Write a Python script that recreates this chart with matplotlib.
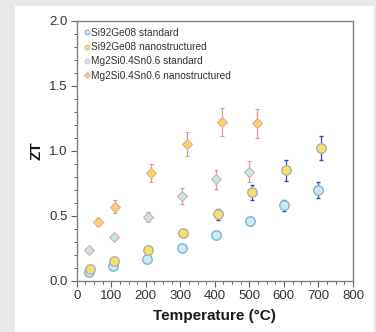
import matplotlib
matplotlib.use("Agg")
import matplotlib.pyplot as plt
from matplotlib.patches import Rectangle
from matplotlib.ticker import MultipleLocator, FormatStrFormatter
from matplotlib.lines import Line2D

plt.rcParams['font.family'] = ['Liberation Sans', 'DejaVu Sans']

# Si92Ge08 standard
sg_std_T = [37, 104, 204, 304, 403, 502, 600, 698]
sg_std_ZT = [0.07, 0.11, 0.17, 0.25, 0.35, 0.46, 0.58, 0.70]
sg_std_err = [0.0, 0.0, 0.0, 0.0, 0.0, 0.03, 0.04, 0.06]

# Si92Ge08 nanostructured
sg_nano_T = [38, 107, 206, 308, 410, 507, 606, 706]
sg_nano_ZT = [0.09, 0.15, 0.24, 0.37, 0.51, 0.68, 0.85, 1.02]
sg_nano_err = [0.0, 0.0, 0.0, 0.0, 0.04, 0.06, 0.08, 0.09]

# Mg2Si0.4Sn0.6 standard
mg_std_T = [37, 107, 206, 304, 403, 500]
mg_std_ZT = [0.24, 0.34, 0.49, 0.65, 0.78, 0.84]
mg_std_err = [0.0, 0.01, 0.04, 0.06, 0.075, 0.077]

# Mg2Si0.4Sn0.6 nanostructured
mg_nano_T = [61, 111, 214, 318, 420, 521]
mg_nano_ZT = [0.45, 0.57, 0.83, 1.05, 1.22, 1.21]
mg_nano_err = [0.03, 0.05, 0.07, 0.09, 0.106, 0.11]

labels = ["Si92Ge08 standard", "Si92Ge08 nanostructured",
          "Mg2Si0.4Sn0.6 standard", "Mg2Si0.4Sn0.6 nanostructured"]

fig = plt.figure(figsize=(3.76, 3.32), dpi=100)
fig.patch.set_facecolor('#e8e8e8')
bg = Rectangle((15/376, 0), 359/376, 1 - 6/332, transform=fig.transFigure,
               facecolor='white', edgecolor='none', zorder=-10)
fig.add_artist(bg)

ax = fig.add_axes([76.7/376, 1 - 280.7/332, (353 - 76.7)/376, (280.7 - 20.7)/332])
ax.set_facecolor('white')

ax.errorbar(mg_std_T, mg_std_ZT, yerr=mg_std_err, fmt='D', ms=5.6,
            mfc='#bfe9ea', mec='#e0a8a8', mew=0.8, ecolor='#d89898', elinewidth=0.9,
            capsize=1.6, zorder=3)
ax.errorbar(mg_nano_T, mg_nano_ZT, yerr=mg_nano_err, fmt='D', ms=5.6,
            mfc='#f8d460', mec='#e8a8a0', mew=0.8, ecolor='#d89898', elinewidth=0.9,
            capsize=1.6, zorder=3)
ax.errorbar(sg_std_T, sg_std_ZT, yerr=sg_std_err, fmt='o', ms=6.8,
            mfc='#c8ecf0', mec='#88b0d8', mew=1.0, ecolor='#3050b0', elinewidth=0.9,
            capsize=1.6, zorder=4)
ax.errorbar(sg_nano_T, sg_nano_ZT, yerr=sg_nano_err, fmt='o', ms=6.8,
            mfc='#f8e070', mec='#b0b0a8', mew=1.0, ecolor='#3050b0', elinewidth=0.9,
            capsize=1.6, zorder=4)

ax.set_xlim(0, 800)
ax.set_ylim(0, 2.0)
ax.xaxis.set_major_locator(MultipleLocator(100))
ax.xaxis.set_minor_locator(MultipleLocator(25))
ax.yaxis.set_major_locator(MultipleLocator(0.5))
ax.yaxis.set_minor_locator(MultipleLocator(0.1))
ax.yaxis.set_major_formatter(FormatStrFormatter('%.1f'))
for s in ax.spines.values():
    s.set_color('#808080')
    s.set_linewidth(1.0)
ax.tick_params(which='major', direction='out', length=4.5, width=0.8, color='#606060',
               labelsize=9.5, labelcolor='#333333', pad=2)
ax.tick_params(which='minor', direction='out', length=2.5, width=0.7, color='#606060')

ax.set_xlabel('Temperature (°C)', fontsize=11, fontweight='bold', color='#1a1a1a', labelpad=5)
ax.set_ylabel('ZT', fontsize=11, fontweight='bold', color='#1a1a1a', labelpad=4)

leg_specs = [('o', '#c8ecf0', '#88b0d8'), ('o', '#f8e070', '#c0c0a0'),
             ('o', '#c9ecec', '#e0c0c0'), ('D', '#f8d460', '#e8b0a0')]
hs = []
for m, fc, ec in leg_specs:
    hs.append(Line2D([], [], ls='none', marker=m, ms=3.6 if m == 'o' else 3.0,
                     mfc=fc, mec=ec, mew=0.7))
leg = ax.legend(hs, labels, loc='upper left', bbox_to_anchor=(0.0, 1.0),
                frameon=False, fontsize=7.3, handlelength=0.6, handletextpad=0.15,
                labelspacing=0.42, borderaxespad=0.35, borderpad=0.35)
for t in leg.get_texts():
    t.set_color('#333333')

fig.savefig('out.png', dpi=100, facecolor=fig.get_facecolor())
